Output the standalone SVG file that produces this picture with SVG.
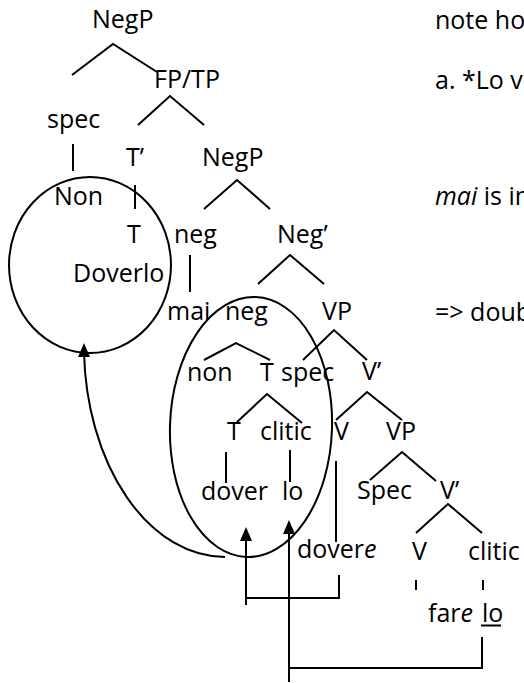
<svg xmlns="http://www.w3.org/2000/svg" width="524" height="683" viewBox="0 0 524 683">
<style>
text{font-family:"Open Sans","Noto Sans",sans-serif;font-size:25px;fill:#000}
.l{stroke:#000;stroke-width:2;fill:none;stroke-linecap:butt}
.c{stroke:#000;stroke-width:2;fill:none}
.i{font-style:italic}
</style>
<defs>
<polygon id="ah" points="0,0 -6,14 6,14" fill="#000"/>
</defs>
<rect width="524" height="683" fill="#fff"/>
<g id="n-negp1"><text x="92" y="28">NegP</text></g>
<g id="n-fptp"><text x="154" y="88">FP/TP</text></g>
<g id="n-spec1"><text x="47" y="128">spec</text></g>
<g id="n-tbar"><text x="126" y="166">T’</text></g>
<g id="n-negp2"><text x="202" y="166">NegP</text></g>
<g id="n-non1"><text x="54" y="205">Non</text></g>
<g id="n-t1"><text x="127" y="243">T</text></g>
<g id="n-neg1"><text x="174" y="243">neg</text></g>
<g id="n-negbar"><text x="277" y="243">Neg’</text></g>
<g id="n-doverlo"><text x="73" y="282">Doverlo</text></g>
<g id="n-mai"><text x="167" y="320">mai</text></g>
<g id="n-neg2"><text x="225" y="320">neg</text></g>
<g id="n-vp1"><text x="322" y="320">VP</text></g>
<g id="n-non2"><text x="187" y="381">non</text></g>
<g id="n-t2"><text x="260" y="381">T</text></g>
<g id="n-spec2"><text x="281" y="381">spec</text></g>
<g id="n-vbar1"><text x="362" y="380">V’</text></g>
<g id="n-t3"><text x="227" y="440">T</text></g>
<g id="n-clitic1"><text x="260" y="440">clitic</text></g>
<g id="n-v1"><text x="334" y="440">V</text></g>
<g id="n-vp2"><text x="386" y="440">VP</text></g>
<g id="n-dover"><text x="201" y="500">dover</text></g>
<g id="n-lo1"><text x="282" y="500">lo</text></g>
<g id="n-spec3"><text x="357" y="499">Spec</text></g>
<g id="n-vbar2"><text x="440" y="499">V’</text></g>
<g id="n-dovere"><text x="297" y="558">dover<tspan class="i">e</tspan></text></g>
<g id="n-v2"><text x="412" y="560">V</text></g>
<g id="n-clitic2"><text x="468" y="560">clitic</text></g>
<g id="n-fare"><text x="428" y="622">far<tspan class="i">e</tspan></text></g>
<g id="n-lo2"><text x="482" y="622">lo</text><line class="l" x1="481" y1="625.5" x2="501" y2="625.5" stroke-width="1.6"/></g>
<g id="notes">
<text x="435" y="29">note ho</text>
<text x="435" y="89">a. *Lo v</text>
<text x="435" y="205"><tspan class="i">mai</tspan> is in</text>
<text x="435" y="321">=&gt; doub</text>
</g>
<g id="connectors">
<polyline class="l" points="72,75 113,44 157,72"/>
<polyline class="l" points="138,125 170,96 204,125"/>
<polyline class="l" points="204,209 237,180 270,209"/>
<polyline class="l" points="258,284 290,255 324,284"/>
<polyline class="l" points="204,360 236,343 270,360"/>
<polyline class="l" points="303,360 334,330 367,360"/>
<polyline class="l" points="237,422 267,394 302,423"/>
<polyline class="l" points="336,420 367,392 402,420"/>
<polyline class="l" points="370,480 402,452 436,481"/>
<polyline class="l" points="416,533 448,504 482,533"/>
<line class="l" x1="73" y1="144" x2="73" y2="171"/>
<line class="l" x1="135" y1="185" x2="135" y2="209"/>
<line class="l" x1="190" y1="255" x2="190" y2="292"/>
<line class="l" x1="226" y1="452" x2="226" y2="483"/>
<line class="l" x1="290" y1="450" x2="290" y2="482"/>
<line class="l" x1="336" y1="461" x2="336" y2="542"/>
<line class="l" x1="416" y1="580" x2="416" y2="590"/>
<line class="l" x1="483" y1="580" x2="483" y2="590"/>
<ellipse class="c" cx="90" cy="265" rx="81" ry="88"/>
<ellipse class="c" cx="251" cy="427" rx="81" ry="130" transform="rotate(2 251 427)"/>
<path class="c" d="M225,557 A141,212 0 0 1 84,352"/>
<use href="#ah" x="84" y="343"/>
<polyline class="l" points="339,575 339,598 246,598"/>
<line class="l" x1="246" y1="535" x2="246" y2="605"/>
<use href="#ah" x="246" y="527"/>
<polyline class="l" points="482,637 482,668 289,668"/>
<line class="l" x1="289" y1="528" x2="289" y2="682"/>
<use href="#ah" x="289" y="520"/>
</g>
</svg>
